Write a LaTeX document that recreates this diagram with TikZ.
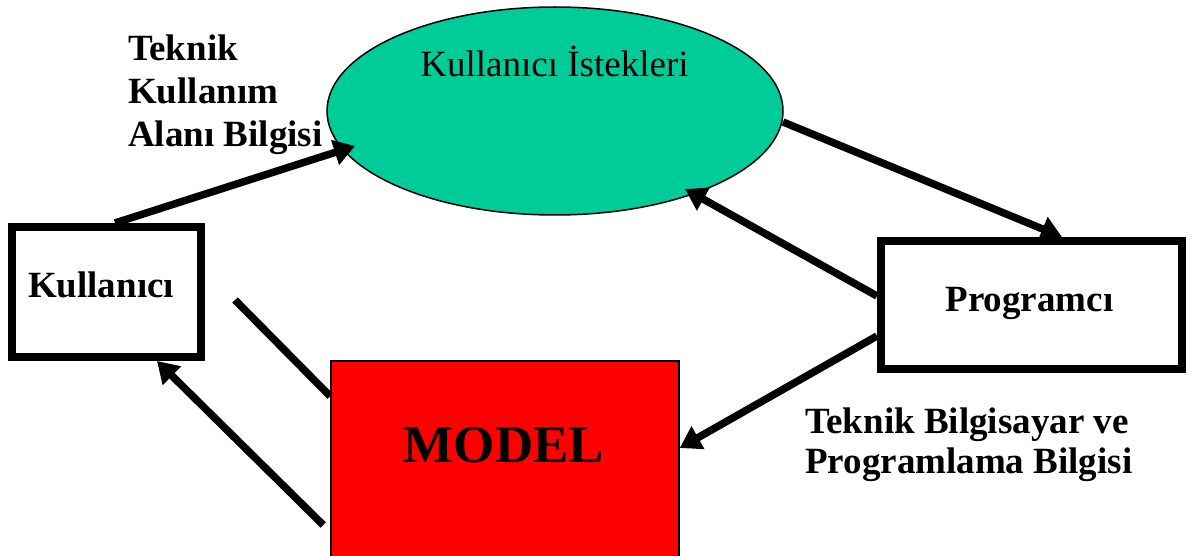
\documentclass[tikz,border=0pt]{standalone}
\usepackage{fontspec}
\setmainfont{Liberation Serif}
\usetikzlibrary{arrows.meta,calc,shapes.geometric}
\definecolor{wishgreen}{RGB}{0,204,153}
\begin{document}
\begin{tikzpicture}[x=1pt,y=-1pt,
  boxnode/.style={draw, line width=8pt, rectangle, inner sep=0pt, fill=white},
  lbl/.style={inner sep=0pt, anchor=base, font=\fontsize{37}{43}\selectfont\bfseries},
  lblleft/.style={lbl, anchor=base west},
  flow/.style={line width=7.5pt, -{Triangle[length=21pt,width=25pt]}},
  bar/.style={line width=7.5pt}]
\useasboundingbox (0,0) rectangle (1192,556);
\clip (0,0) rectangle (1192,556);

% main shapes
\node[ellipse, draw, fill=wishgreen, line width=1.5pt, minimum width=456pt,
      minimum height=208pt, inner sep=0pt] (ell) at (555,111) {};
\node[boxnode, minimum width=189pt, minimum height=130pt] (kul) at (106.5,292) {};
\node[boxnode, minimum width=301pt, minimum height=128pt] (prog) at (1031.5,305) {};
\node[draw, fill=red, line width=1.5pt, minimum width=348pt, minimum height=240pt,
      inner sep=0pt] (model) at (505,481) {};

% texts
\node[inner sep=0pt, anchor=base, font=\fontsize{37}{43}\selectfont] (elltext) at (554.5,77) {Kullanıcı İstekleri};
\node[lbl] (kultext) at (101,298) {Kullanıcı};
\node[lbl] (progtext) at (1029.5,312) {Programcı};
\node[lbl, font=\fontsize{53}{60}\selectfont\bfseries] (modeltext) at (504,462) {MODEL};

\node[lblleft] (ua) at (128,61) {Teknik};
\node[lblleft] (ub) at (128,104) {Kullanım};
\node[lblleft] (uc) at (128,147) {Alanı Bilgisi};
\node[lblleft] (pa) at (805,433) {Teknik Bilgisayar ve};
\node[lblleft] (pb) at (805,473) {Programlama Bilgisi};

% connectors
\draw[flow] ($(kul.north)+(8.5,0)$) -- ($(ell.center)+(-200,35)$);
\draw[flow] ($(ell.center)+(228,11)$) -- ($(prog.north)+(30.5,0)$);
\draw[flow] ($(prog.west)+(0,-9)$) -- ($(ell.center)+(130,78)$);
\draw[flow] ($(prog.west)+(0,31)$) -- ($(model.east)+(0,-33)$);
\draw[flow] ($(model.west)+(-7,44)$) -- ($(kul.south)+(50.5,0)$);
\coordinate (barstart) at (235,300);
\draw[bar] (barstart) -- ($(model.north west)+(0,36)$);
\end{tikzpicture}
\end{document}
